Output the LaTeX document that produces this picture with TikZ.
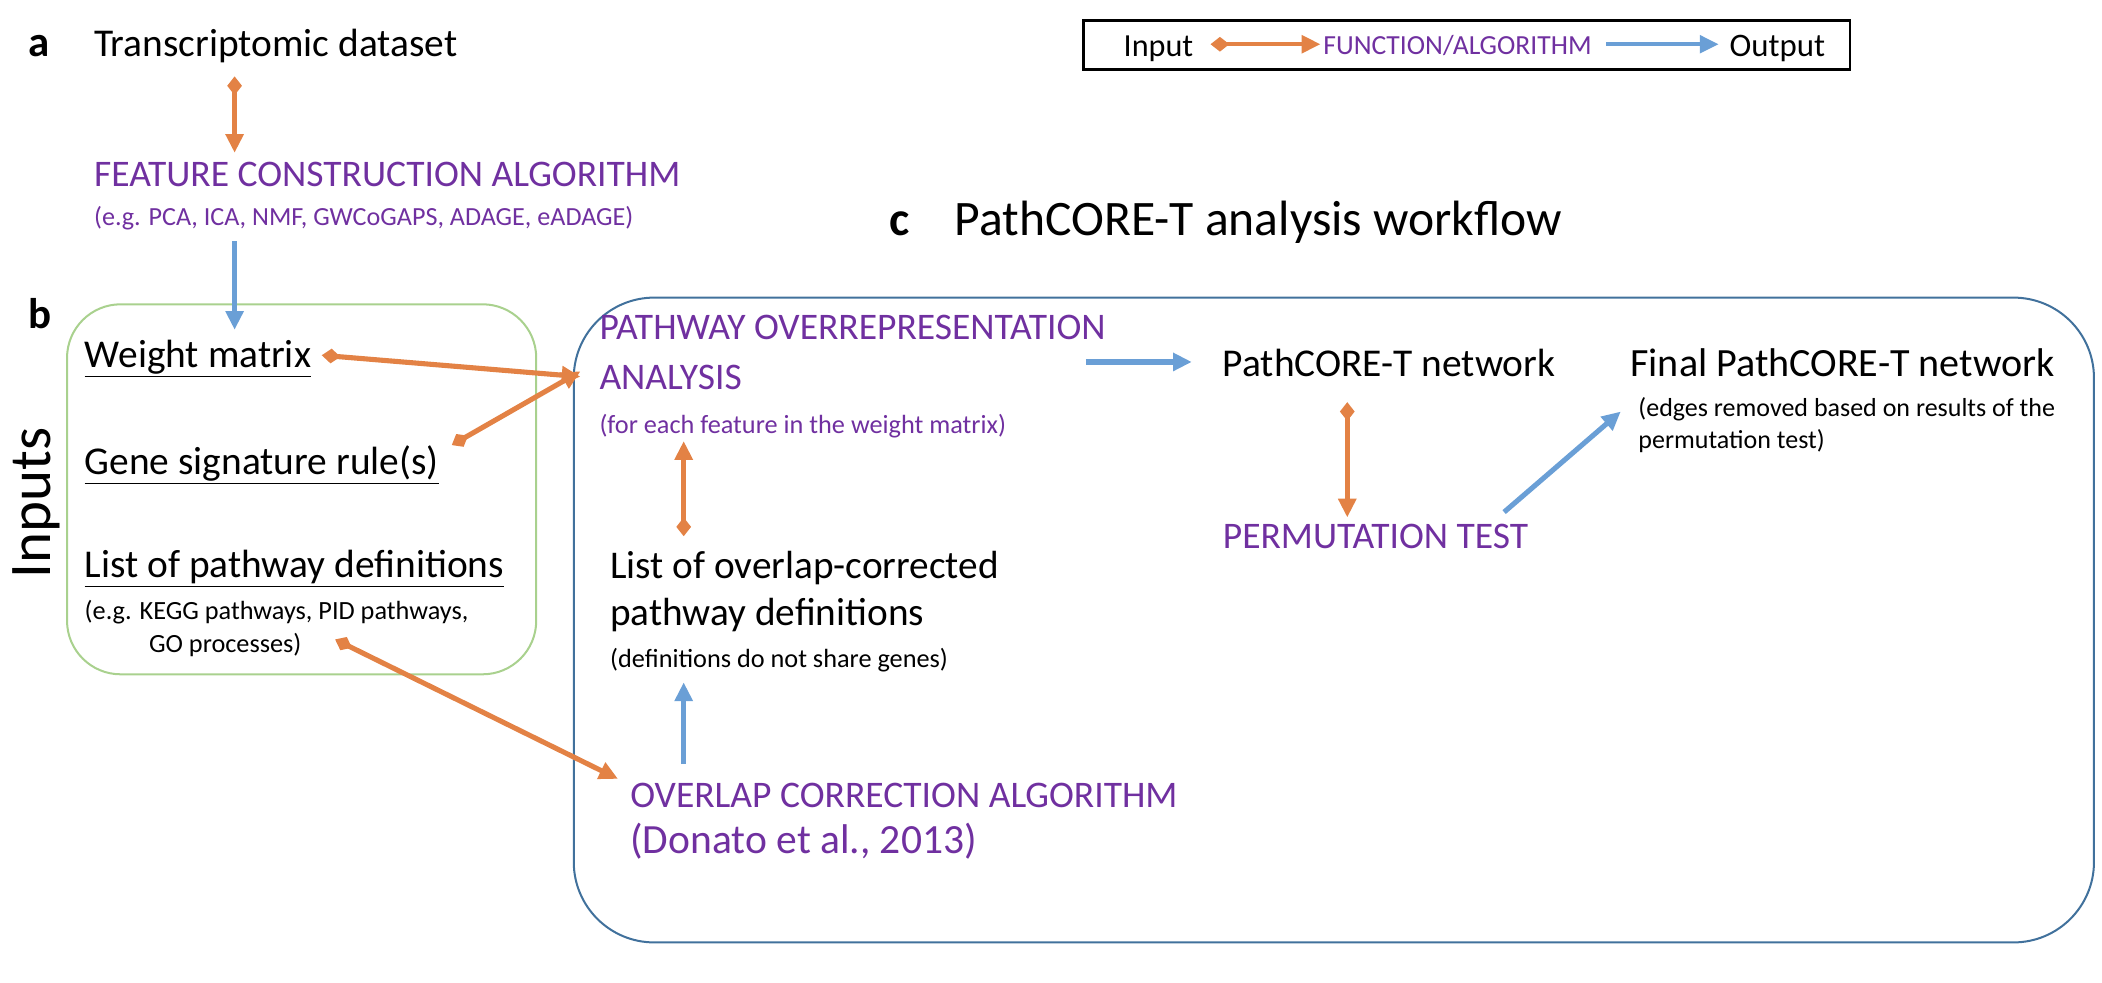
\documentclass[tikz,border=0pt]{standalone}
\usepackage{fontspec}
\setmainfont{Carlito}
\usetikzlibrary{arrows.meta}
\definecolor{orng}{HTML}{E38245}
\definecolor{blu}{HTML}{6A9FD6}
\definecolor{purp}{HTML}{7030A0}
\definecolor{grn}{HTML}{A9D18E}
\definecolor{dblu}{HTML}{41719C}
\tikzset{
  inarrow/.style={draw=orng,line width=3.8pt,{Diamond[length=14pt,width=11pt]}-{Triangle[length=14pt,width=13pt]}},
  outarrow/.style={draw=blu,line width=3.8pt,-{Triangle[length=14pt,width=13pt]}},
  txt/.style={inner sep=0pt,anchor=base west,font=\fontsize{29.4}{35}\selectfont},
  ptxt/.style={inner sep=0pt,anchor=base west,text=purp,font=\fontsize{28}{34}\selectfont},
  small/.style={inner sep=0pt,anchor=base west,font=\fontsize{19.6}{25}\selectfont},
  psmall/.style={small,text=purp},
  lbl/.style={inner sep=0pt,anchor=base west,font=\bfseries\fontsize{32}{38}\selectfont},
}
\begin{document}
\begin{tikzpicture}[x=1pt,y=-1pt]
\useasboundingbox (0,0) rectangle (1568,733);
% boxes
\draw[grn,line width=1.5pt,rounded corners=40pt] (50,227) rectangle (400,503);
\draw[dblu,line width=1.5pt,rounded corners=60pt] (428,222) rectangle (1562,703);
% legend
\draw[black,line width=2.2pt] (808,15) rectangle (1380,52);
\node[inner sep=0pt,anchor=base west,font=\fontsize{24}{28}\selectfont] (lin) at (838,42) {Input};
\node[inner sep=0pt,anchor=base west,font=\fontsize{20.6}{24}\selectfont,text=purp] (lfn) at (987,41) {FUNCTION/ALGORITHM};
\node[inner sep=0pt,anchor=base west,font=\fontsize{24.5}{28}\selectfont] (lout) at (1290,42) {Output};
\coordinate (li1) at (903,33); \coordinate (li2) at (985,33);
\coordinate (lo1) at (1198,33); \coordinate (lo2) at (1282,33);
\draw[inarrow,line width=3pt] (li1) -- (li2);
\draw[outarrow,line width=3pt] (lo1) -- (lo2);
% panel a
\node[lbl] (la) at (21,42) {a};
\node[txt] (tds) at (70,42) {Transcriptomic dataset};
\node[ptxt] (fca) at (70,139) {FEATURE CONSTRUCTION ALGORITHM};
\node[inner sep=0pt,anchor=base west,font=\fontsize{19.5}{24}\selectfont,text=purp] (fcae) at (70,168) {(e.g. PCA, ICA, NMF, GWCoGAPS, ADAGE, eADAGE)};
% panel b
\node[lbl] (lb) at (21,245) {b};
\node[inner sep=0pt,rotate=90,font=\fontsize{44}{48}\selectfont] (inputs) at (27,375) {Inputs};
\node[txt] (wm) at (63,274) {\underline{Weight matrix}};
\node[txt] (gsr) at (63,354) {\underline{Gene signature rule(s)}};
\node[txt] (lpd) at (63,431) {\underline{List of pathway definitions}};
\node[small] (lpde) at (63,462) {(e.g. KEGG pathways, PID pathways,};
\node[small] (lpde2) at (111,487) {GO processes)};
% panel c
\node[lbl,font=\bfseries\fontsize{36}{40}\selectfont] (lc) at (663,176) {c};
\node[inner sep=0pt,anchor=base west,font=\fontsize{37}{40}\selectfont] (title) at (712,176) {PathCORE-T analysis workflow};
\node[inner sep=0pt,anchor=north west,align=left,text=purp,font=\fontsize{28}{37}\selectfont] (poa) at (447,235) {PATHWAY OVERREPRESENTATION\\ANALYSIS};
\node[psmall] (poae) at (447,323) {(for each feature in the weight matrix)};
\node[txt] (pn) at (912,281) {PathCORE-T network};
\node[txt,font=\fontsize{29.9}{35}\selectfont] (fpn) at (1216,281) {Final PathCORE-T network};
\node[inner sep=0pt,anchor=north west,align=left,font=\fontsize{19.4}{24}\selectfont] (fpne) at (1222,296) {(edges removed based on results of the\\permutation test)};
\node[ptxt] (pt) at (912,409) {PERMUTATION TEST};
\node[inner sep=0pt,anchor=north west,align=left,font=\fontsize{29.3}{35}\selectfont] (locp) at (455,411) {List of overlap-corrected\\pathway definitions};
\node[small] (locpe) at (455,498) {(definitions do not share genes)};
\node[ptxt] (oca) at (470,602) {OVERLAP CORRECTION ALGORITHM};
\node[inner sep=0pt,anchor=base west,text=purp,font=\fontsize{31}{34}\selectfont] (oca2) at (470,637) {(Donato et al., 2013)};
% connectors
\coordinate (a1) at (175,57); \coordinate (a2) at (175,114);
\draw[inarrow] (a1) -- (a2);
\coordinate (b1) at (175,180); \coordinate (b2) at (175,246);
\draw[outarrow] (b1) -- (b2);
\coordinate (w1) at (240,265); \coordinate (w2) at (433,281);
\draw[inarrow] (w1) -- (w2);
\coordinate (g1) at (337,332); \coordinate (g2) at (433,277);
\draw[inarrow] (g1) -- (g2);
\coordinate (p1) at (250,477); \coordinate (p2) at (461,581);
\draw[inarrow] (p1) -- (p2);
\coordinate (o1) at (510,400); \coordinate (o2) at (510,329);
\draw[inarrow] (o1) -- (o2);
\coordinate (c1) at (510,570); \coordinate (c2) at (510,509);
\draw[outarrow] (c1) -- (c2);
\coordinate (n1) at (810,270); \coordinate (n2) at (889,270);
\draw[outarrow] (n1) -- (n2);
\coordinate (t1) at (1005,300); \coordinate (t2) at (1005,386);
\draw[inarrow] (t1) -- (t2);
\coordinate (f1) at (1122,382); \coordinate (f2) at (1209,307);
\draw[outarrow] (f1) -- (f2);
\end{tikzpicture}
\end{document}
